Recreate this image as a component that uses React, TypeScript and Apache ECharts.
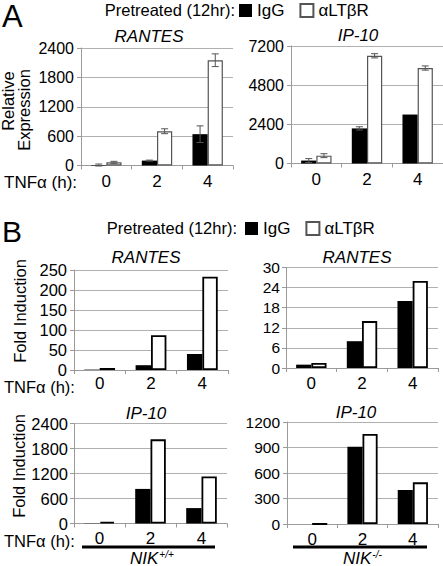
import React, { useEffect, useRef } from "react";
import * as echarts from "echarts";

const categories = ["0", "2", "4"];

// Panel A (relative expression, with error bars)
const aRantesIgG = [10, 100, 640];
const aRantesIgGErr = [20, 10, 170];
const aRantesAlt = [65, 700, 2150];
const aRantesAltErr = [20, 50, 130];
const aIp10IgG = [180, 2150, 3000];
const aIp10IgGErr = [120, 100, 0];
const aIp10Alt = [480, 6600, 5850];
const aIp10AltErr = [120, 130, 130];

// Panel B (fold induction)
const bRantesWtIgG = [1, 12, 40];
const bRantesWtAlt = [5, 87, 233];
const bRantesKoIgG = [1, 8, 20];
const bRantesKoAlt = [1.5, 14, 26];
const bIp10WtIgG = [5, 830, 370];
const bIp10WtAlt = [40, 2020, 1130];
const bIp10KoIgG = [0, 910, 400];
const bIp10KoAlt = [0, 1060, 490];

const FONT = "'Liberation Sans', Arial, sans-serif";

export default function App() {
  const ref = useRef<HTMLDivElement>(null);
  useEffect(() => {
    if (!ref.current) return;
    const chart = echarts.init(ref.current, null, { renderer: "svg" });

    const panels = [
      { left: 81, top: 48, width: 152, height: 117.5, max: 2400, interval: 600, fs: 16, xm: 7.5, ym: 7, igg: aRantesIgG, alt: aRantesAlt, iggErr: aRantesIgGErr, altErr: aRantesAltErr, A: true },
      { left: 291, top: 46, width: 152, height: 117.5, max: 7200, interval: 2400, fs: 16, xm: 7.5, ym: 7, igg: aIp10IgG, alt: aIp10Alt, iggErr: aIp10IgGErr, altErr: aIp10AltErr, A: true },
      { left: 74, top: 270, width: 154, height: 100, max: 250, interval: 50, fs: 16.5, xm: 4.5, ym: 7, igg: bRantesWtIgG, alt: bRantesWtAlt, A: false },
      { left: 286, top: 267.5, width: 152, height: 100.5, max: 30, interval: 6, fs: 15.5, xm: 6.5, ym: 6, igg: bRantesKoIgG, alt: bRantesKoAlt, A: false },
      { left: 74, top: 423.5, width: 153, height: 100, max: 2400, interval: 600, fs: 16.5, xm: 6.5, ym: 6, igg: bIp10WtIgG, alt: bIp10WtAlt, A: false },
      { left: 287, top: 422, width: 151, height: 102, max: 1200, interval: 300, fs: 15.5, xm: 6.5, ym: 7, igg: bIp10KoIgG, alt: bIp10KoAlt, A: false },
    ];

    const grid: any[] = [];
    const xAxis: any[] = [];
    const yAxis: any[] = [];
    const series: any[] = [];

    const errSeries = (i: number, vals: number[], errs: number[], off: number) => ({
      type: "custom",
      xAxisIndex: i,
      yAxisIndex: i,
      z: 10,
      silent: true,
      encode: { x: 0, y: [1, 2] },
      data: vals.map((v, k) => [k, v - errs[k], v + errs[k]]),
      renderItem: (params: any, api: any) => {
        const cat = api.value(0);
        const lo = api.value(1);
        const hi = api.value(2);
        if (hi - lo <= 0) return { type: "group", children: [] };
        const band = api.size([1, 0])[0];
        const p1 = api.coord([cat, lo]);
        const p2 = api.coord([cat, hi]);
        const x = p1[0] + off * band;
        const cap = 3.5;
        const st = { stroke: "#555", lineWidth: 1 };
        return {
          type: "group",
          children: [
            { type: "line", shape: { x1: x, y1: p1[1], x2: x, y2: p2[1] }, style: st },
            { type: "line", shape: { x1: x - cap, y1: p2[1], x2: x + cap, y2: p2[1] }, style: st },
            { type: "line", shape: { x1: x - cap, y1: p1[1], x2: x + cap, y2: p1[1] }, style: st },
          ],
        };
      },
    });

    panels.forEach((p, i) => {
      grid.push({ left: p.left, top: p.top, width: p.width, height: p.height, containLabel: false });
      xAxis.push({
        type: "category",
        gridIndex: i,
        data: categories,
        boundaryGap: true,
        axisLine: { lineStyle: { color: "#9a9a9a", width: 1 } },
        axisTick: { show: true, alignWithLabel: false, length: 4, lineStyle: { color: "#9a9a9a" } },
        axisLabel: { color: "#000", fontSize: 17, fontFamily: FONT, margin: p.xm },
        splitLine: { show: false },
      });
      yAxis.push({
        type: "value",
        gridIndex: i,
        min: 0,
        max: p.max,
        interval: p.interval,
        axisLine: { show: true, lineStyle: { color: "#9a9a9a", width: 1 } },
        axisTick: { show: true, length: 4, lineStyle: { color: "#9a9a9a" } },
        axisLabel: {
          color: "#000",
          fontSize: p.fs,
          fontFamily: FONT,
          margin: p.ym,
          formatter: (v: number) => String(v),
        },
        splitLine: { show: true, lineStyle: { color: "#b0b0b0", width: 1 } },
      });
      series.push({
        name: "IgG",
        type: "bar",
        xAxisIndex: i,
        yAxisIndex: i,
        barWidth: "30%",
        barGap: "0%",
        data: p.igg,
        itemStyle: { color: "#000", borderColor: "#000", borderWidth: 0 },
      });
      series.push({
        name: "αLTβR",
        type: "bar",
        xAxisIndex: i,
        yAxisIndex: i,
        barWidth: "30%",
        barGap: "0%",
        data: p.alt,
        itemStyle: p.A
          ? { color: "#fff", borderColor: "#555", borderWidth: 1.2 }
          : { color: "#fff", borderColor: "#000", borderWidth: 1.8 },
      });
      if (p.A) {
        series.push(errSeries(i, p.igg, p.iggErr as number[], -0.15));
        series.push(errSeries(i, p.alt, p.altErr as number[], 0.15));
      }
    });

    const txt = (x: number, y: number, text: string, fs: number, opts: any = {}) => ({
      type: "text",
      x,
      y,
      rotation: opts.rotation || 0,
      style: {
        text,
        fontSize: fs,
        fontFamily: FONT,
        fontStyle: opts.italic ? "italic" : "normal",
        fill: "#000",
        textAlign: opts.align || "center",
        textVerticalAlign: "middle",
        ...(opts.lineHeight ? { lineHeight: opts.lineHeight } : {}),
      },
    });

    const graphic: any[] = [
      txt(2, 16, "A", 31, { align: "left" }),
      txt(2, 231, "B", 30, { align: "left" }),
      txt(235, 10, "Pretreated (12hr):", 16.5, { align: "right" }),
      txt(237, 228, "Pretreated (12hr):", 16.5, { align: "right" }),
      txt(149, 36, "RANTES", 17, { italic: true }),
      txt(358, 35, "IP-10", 17, { italic: true }),
      txt(146, 257, "RANTES", 17, { italic: true }),
      txt(357, 257, "RANTES", 17, { italic: true }),
      txt(146, 413, "IP-10", 17, { italic: true }),
      txt(356, 412, "IP-10", 17, { italic: true }),
      txt(4, 182, "TNFα (h):", 17, { align: "left", lineHeight: 12 }),
      txt(4, 386.5, "TNFα (h):", 16.5, { align: "left", lineHeight: 12 }),
      txt(4, 541, "TNFα (h):", 16.5, { align: "left", lineHeight: 12 }),
      txt(8, 101, "Relative", 16.5, { rotation: Math.PI / 2 }),
      txt(24, 110, "Expression", 16.5, { rotation: Math.PI / 2 }),
      txt(20, 311, "Fold Induction", 16.5, { rotation: Math.PI / 2 }),
      txt(19, 466, "Fold Induction", 16.5, { rotation: Math.PI / 2 }),
      { type: "rect", shape: { x: 82, y: 545.5, width: 133, height: 3 }, style: { fill: "#000" } },
      { type: "rect", shape: { x: 293, y: 545.5, width: 134, height: 3 }, style: { fill: "#000" } },
      {
        type: "text",
        x: 130,
        y: 558,
        style: {
          text: "{a|NIK}{s|+/+}",
          textVerticalAlign: "middle",
          rich: {
            a: { fontSize: 17, fontStyle: "italic", fontFamily: FONT, fill: "#000", color: "#000" },
            s: { fontSize: 10, fontStyle: "italic", fontFamily: FONT, fill: "#000", color: "#000", padding: [0, 0, 8, 1] },
          },
        },
      },
      {
        type: "text",
        x: 343,
        y: 558,
        style: {
          text: "{a|NIK}{s|-/-}",
          textVerticalAlign: "middle",
          rich: {
            a: { fontSize: 17, fontStyle: "italic", fontFamily: FONT, fill: "#000", color: "#000" },
            s: { fontSize: 10, fontStyle: "italic", fontFamily: FONT, fill: "#000", color: "#000", padding: [0, 0, 8, 1] },
          },
        },
      },
    ];

    const legendCommon = {
      data: ["IgG", "αLTβR"],
      orient: "horizontal",
      itemWidth: 13,
      itemHeight: 13,
      itemGap: 15,
      selectedMode: false,
      padding: 0,
      icon: "rect",
      textStyle: { color: "#000", fontSize: 17, fontFamily: FONT },
    };

    chart.setOption({
      animation: false,
      backgroundColor: "#fff",
      legend: [
        { ...legendCommon, left: 239, top: 2 },
        { ...legendCommon, left: 245, top: 220 },
      ],
      grid,
      xAxis,
      yAxis,
      series,
      graphic,
    });

    return () => chart.dispose();
  }, []);

  return (
    <div
      ref={ref}
      style={{ position: "fixed", left: 0, top: 0, width: 443, height: 566, background: "#fff" }}
    />
  );
}
